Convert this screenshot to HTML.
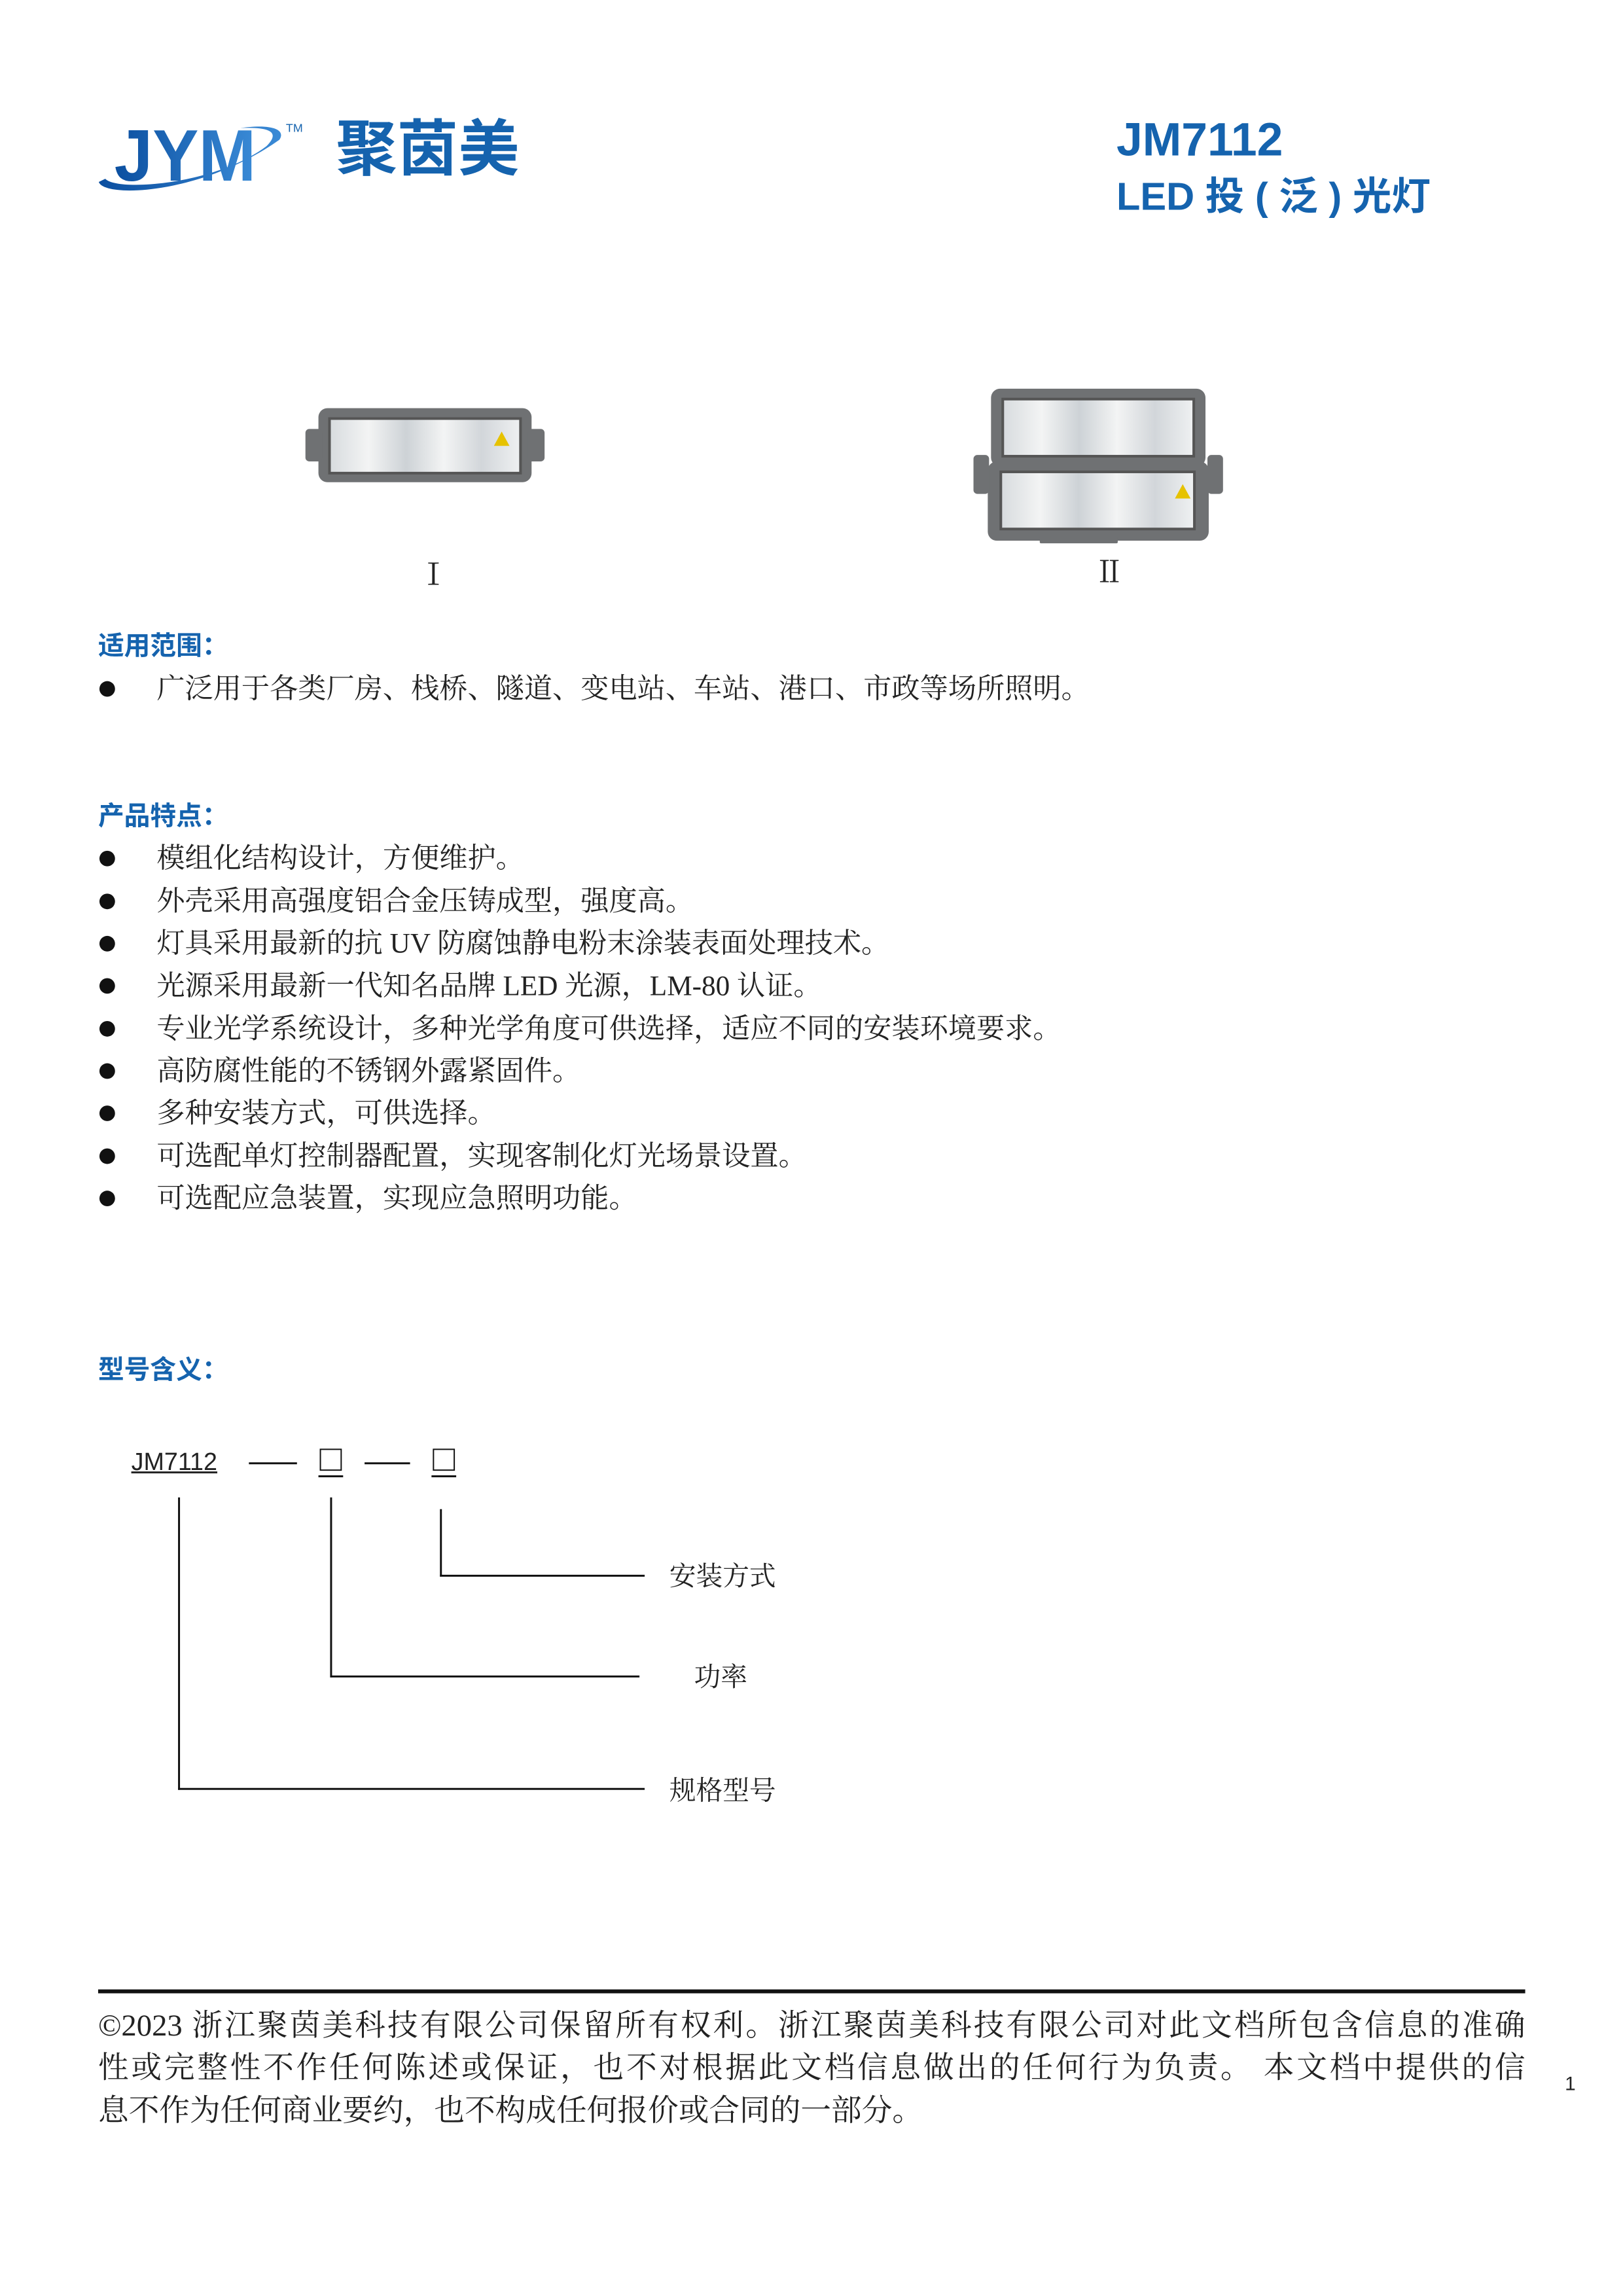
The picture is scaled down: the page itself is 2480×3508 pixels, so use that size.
<!DOCTYPE html>
<html><head><meta charset="utf-8"><style>
*{margin:0;padding:0;box-sizing:border-box}
body{width:2480px;height:3508px;background:#fff;position:relative;overflow:hidden;font-family:"Liberation Serif","Noto Serif CJK SC",serif;color:#222}
#w{position:absolute;left:0;top:0;width:2480px;height:3508px;transform:scale(0.993);transform-origin:0 0}
.a{position:absolute;white-space:nowrap}
.blue{color:#1563ae;font-family:"Liberation Sans","Noto Sans CJK SC",sans-serif;font-weight:bold}
.h{font-size:40px;line-height:40px}
.li{position:absolute;left:241px;font-size:43.5px;line-height:44px;white-space:nowrap}
.dot{position:absolute;left:153px;width:24px;height:24px;border-radius:50%;background:#111}
.ln{position:absolute;background:#111}
.lamp{position:absolute;background:#6f7173;border-radius:14px}
.pan{position:absolute;background:linear-gradient(90deg,#d8dcdf,#f3f4f4 20%,#cdd2d6 40%,#f3f4f4 60%,#d2d6da 80%,#eef0f1);border:4px solid #555}
.ft{position:absolute;left:151px;width:2196px;font-size:47px;line-height:47px;text-align:justify;text-align-last:justify;white-space:nowrap}
</style></head><body><div id="w">
<svg class="a" style="left:140px;top:175px" width="330" height="130" viewBox="0 0 330 130">
<defs><linearGradient id="g" x1="0" x2="1"><stop offset="0" stop-color="#0b4fa0"/><stop offset="1" stop-color="#3a8ad6"/></linearGradient></defs>
<path d="M12 105 C 20 130,170 125,290 40 C 300 25,280 15,230 22 C 280 20,290 30,270 50 C 190 110,40 120,22 100 Z" fill="url(#g)"/>
<text x="36" y="103" font-family="Liberation Sans,sans-serif" font-weight="bold" font-size="112" fill="url(#g)" textLength="218" lengthAdjust="spacingAndGlyphs">JYM</text>
<text x="300" y="28" font-family="Liberation Sans,sans-serif" font-size="18" fill="#1563ae">TM</text>
</svg>
<div class="a blue" style="left:517px;top:180px;font-size:94px;line-height:100px">聚茵美</div>
<div class="a blue" style="left:1718px;top:175px;font-size:72px;line-height:80px">JM7112</div>
<div class="a blue" style="left:1718px;top:268px;font-size:60px;line-height:70px">LED 投 ( 泛 ) 光灯</div>
<div class="lamp" style="left:490px;top:628px;width:328px;height:114px"></div>
<div class="lamp" style="left:470px;top:660px;width:26px;height:50px;border-radius:6px"></div>
<div class="lamp" style="left:812px;top:660px;width:26px;height:50px;border-radius:6px"></div>
<div class="pan" style="left:505px;top:642px;width:298px;height:88px"></div>
<div class="a" style="left:760px;top:664px;width:0;height:0;border-left:12px solid transparent;border-right:12px solid transparent;border-bottom:22px solid #e6c200"></div>
<div class="lamp" style="left:1525px;top:598px;width:330px;height:120px"></div>
<div class="lamp" style="left:1520px;top:710px;width:340px;height:122px"></div>
<div class="lamp" style="left:1498px;top:700px;width:24px;height:60px;border-radius:6px"></div>
<div class="lamp" style="left:1858px;top:700px;width:24px;height:60px;border-radius:6px"></div>
<div class="lamp" style="left:1600px;top:826px;width:120px;height:10px;border-radius:2px"></div>
<div class="pan" style="left:1541px;top:612px;width:298px;height:92px"></div>
<div class="pan" style="left:1538px;top:724px;width:302px;height:92px"></div>
<div class="a" style="left:1808px;top:745px;width:0;height:0;border-left:12px solid transparent;border-right:12px solid transparent;border-bottom:22px solid #e6c200"></div>
<div class="a" style="left:644px;top:862px;font-size:46px;line-height:46px">Ⅰ</div>
<div class="a" style="left:1684px;top:858px;font-size:46px;line-height:46px">Ⅱ</div>
<div class="a blue h" style="left:151px;top:974px">适用范围：</div>
<div class="dot" style="top:1048px"></div><div class="li" style="top:1038px">广泛用于各类厂房、栈桥、隧道、变电站、车站、港口、市政等场所照明。</div>
<div class="a blue h" style="left:151px;top:1236px">产品特点：</div>
<div class="dot" style="top:1309px"></div><div class="li" style="top:1299px">模组化结构设计，方便维护。</div>
<div class="dot" style="top:1375px"></div><div class="li" style="top:1365px">外壳采用高强度铝合金压铸成型，强度高。</div>
<div class="dot" style="top:1440px"></div><div class="li" style="top:1430px">灯具采用最新的抗 UV 防腐蚀静电粉末涂装表面处理技术。</div>
<div class="dot" style="top:1505px"></div><div class="li" style="top:1495px">光源采用最新一代知名品牌 LED 光源，LM-80 认证。</div>
<div class="dot" style="top:1571px"></div><div class="li" style="top:1561px">专业光学系统设计，多种光学角度可供选择，适应不同的安装环境要求。</div>
<div class="dot" style="top:1636px"></div><div class="li" style="top:1626px">高防腐性能的不锈钢外露紧固件。</div>
<div class="dot" style="top:1701px"></div><div class="li" style="top:1691px">多种安装方式，可供选择。</div>
<div class="dot" style="top:1767px"></div><div class="li" style="top:1757px">可选配单灯控制器配置，实现客制化灯光场景设置。</div>
<div class="dot" style="top:1832px"></div><div class="li" style="top:1822px">可选配应急装置，实现应急照明功能。</div>
<div class="a blue h" style="left:151px;top:2088px">型号含义：</div>
<div class="a" style="left:202px;top:2228px;font-family:'Liberation Sans',sans-serif;font-size:38px;line-height:44px;text-decoration:underline;text-decoration-thickness:3px">JM7112</div>
<div class="ln" style="left:383px;top:2250px;width:74px;height:3px"></div>
<div class="a" style="left:492px;top:2229px;width:34px;height:34px;border:2px solid #111"></div>
<div class="ln" style="left:490px;top:2270px;width:38px;height:3px"></div>
<div class="ln" style="left:561px;top:2250px;width:70px;height:3px"></div>
<div class="a" style="left:666px;top:2229px;width:34px;height:34px;border:2px solid #111"></div>
<div class="ln" style="left:664px;top:2270px;width:38px;height:3px"></div>
<div class="ln" style="left:274px;top:2304px;width:3px;height:450px"></div>
<div class="ln" style="left:274px;top:2751px;width:718px;height:3px"></div>
<div class="ln" style="left:508px;top:2304px;width:3px;height:277px"></div>
<div class="ln" style="left:508px;top:2578px;width:476px;height:3px"></div>
<div class="ln" style="left:677px;top:2322px;width:3px;height:104px"></div>
<div class="ln" style="left:677px;top:2423px;width:315px;height:3px"></div>
<div class="a" style="left:1030px;top:2405px;font-size:41px;line-height:41px">安装方式</div>
<div class="a" style="left:1068px;top:2560px;font-size:41px;line-height:41px">功率</div>
<div class="a" style="left:1030px;top:2735px;font-size:41px;line-height:41px">规格型号</div>
<div class="ln" style="left:151px;top:3061px;width:2196px;height:6px"></div>
<div class="ft" style="top:3094px">©2023 浙江聚茵美科技有限公司保留所有权利。浙江聚茵美科技有限公司对此文档所包含信息的准确</div>
<div class="ft" style="top:3159px">性或完整性不作任何陈述或保证，也不对根据此文档信息做出的任何行为负责。 本文档中提供的信</div>
<div class="ft" style="top:3225px;text-align-last:left">息不作为任何商业要约，也不构成任何报价或合同的一部分。</div>
<div class="a" style="left:2408px;top:3190px;font-family:'Liberation Sans',sans-serif;font-size:30px">1</div>
</div></body></html>
